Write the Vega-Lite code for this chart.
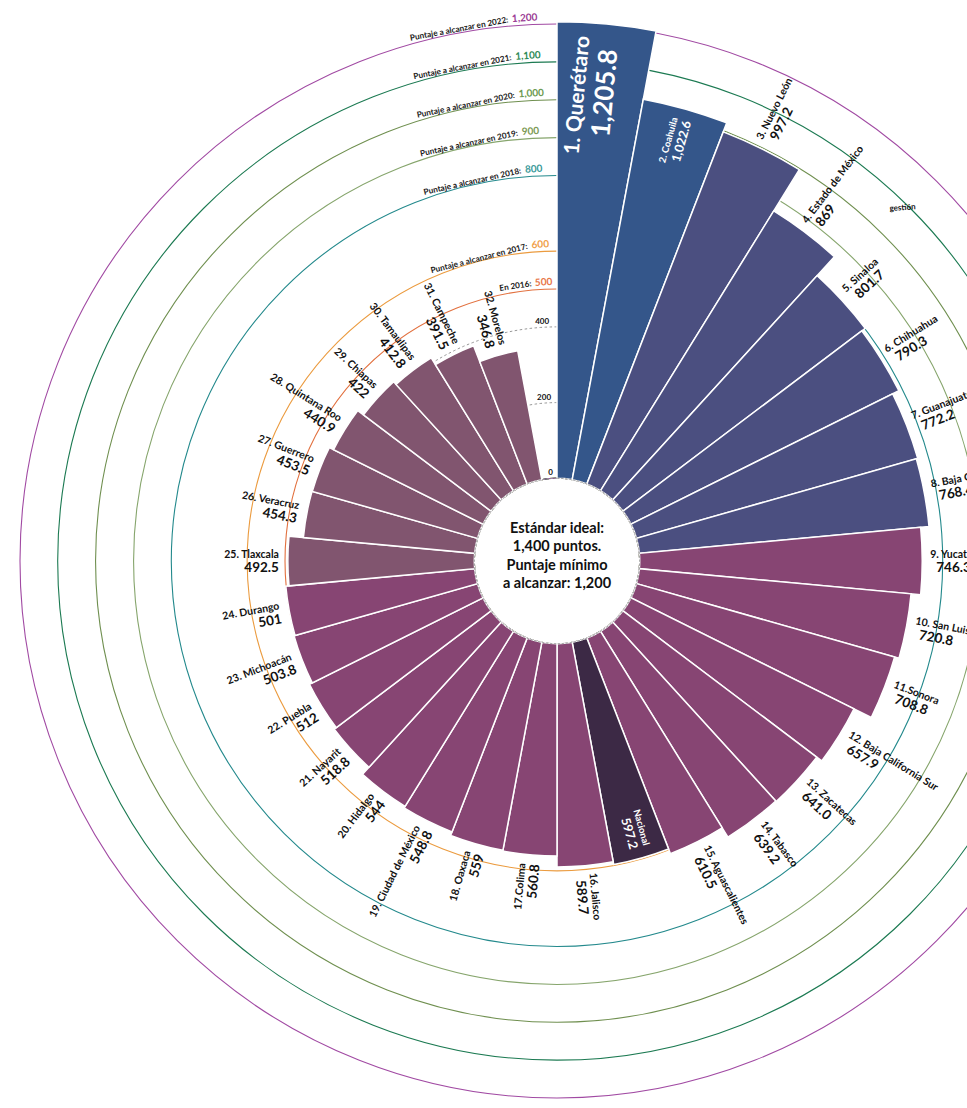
{
  "$schema": "https://vega.github.io/schema/vega-lite/v6.json",
  "autosize": {"type": "none"},
  "padding": {"left": 147, "top": 14, "right": 0, "bottom": 0},
  "width": 820,
  "height": 1094,
  "background": "white",
  "config": {"view": {"stroke": null}, "font": "Lato", "text": {"font": "Lato"}},
  "datasets": {
    "estados": [
      {"pos": 1, "nombre": "1. Querétaro", "v": 1205.8, "cifra": "1,205.8", "grupo": "a"},
      {"pos": 2, "nombre": "2. Coahuila", "v": 1022.6, "cifra": "1,022.6", "grupo": "a"},
      {"pos": 3, "nombre": "3. Nuevo León", "v": 997.2, "cifra": "997.2", "grupo": "b"},
      {"pos": 4, "nombre": "4. Estado de México", "v": 869, "cifra": "869", "grupo": "b"},
      {"pos": 5, "nombre": "5. Sinaloa", "v": 801.7, "cifra": "801.7", "grupo": "b"},
      {"pos": 6, "nombre": "6. Chihuahua", "v": 790.3, "cifra": "790.3", "grupo": "b"},
      {"pos": 7, "nombre": "7. Guanajuato", "v": 772.2, "cifra": "772.2", "grupo": "b"},
      {"pos": 8, "nombre": "8. Baja California", "v": 768.4, "cifra": "768.4", "grupo": "b"},
      {"pos": 9, "nombre": "9. Yucatán", "v": 746.3, "cifra": "746.3", "grupo": "c"},
      {"pos": 10, "nombre": "10. San Luis Potosí", "v": 720.8, "cifra": "720.8", "grupo": "c"},
      {"pos": 11, "nombre": "11.Sonora", "v": 708.8, "cifra": "708.8", "grupo": "c"},
      {"pos": 12, "nombre": "12. Baja California Sur", "v": 657.9, "cifra": "657.9", "grupo": "c"},
      {"pos": 13, "nombre": "13. Zacatecas", "v": 641.0, "cifra": "641.0", "grupo": "c"},
      {"pos": 14, "nombre": "14. Tabasco", "v": 639.2, "cifra": "639.2", "grupo": "c"},
      {"pos": 15, "nombre": "15. Aguascalientes", "v": 610.5, "cifra": "610.5", "grupo": "c"},
      {"pos": 16, "nombre": "Nacional", "v": 597.2, "cifra": "597.2", "grupo": "n"},
      {"pos": 17, "nombre": "16. Jalisco", "v": 589.7, "cifra": "589.7", "grupo": "c"},
      {"pos": 18, "nombre": "17.Colima", "v": 560.8, "cifra": "560.8", "grupo": "c"},
      {"pos": 19, "nombre": "18. Oaxaca", "v": 559, "cifra": "559", "grupo": "c"},
      {"pos": 20, "nombre": "19. Ciudad de México", "v": 548.8, "cifra": "548.8", "grupo": "c"},
      {"pos": 21, "nombre": "20. Hidalgo", "v": 544, "cifra": "544", "grupo": "c"},
      {"pos": 22, "nombre": "21. Nayarit", "v": 518.8, "cifra": "518.8", "grupo": "c"},
      {"pos": 23, "nombre": "22. Puebla", "v": 512, "cifra": "512", "grupo": "c"},
      {"pos": 24, "nombre": "23. Michoacán", "v": 503.8, "cifra": "503.8", "grupo": "c"},
      {"pos": 25, "nombre": "24. Durango", "v": 501, "cifra": "501", "grupo": "c"},
      {"pos": 26, "nombre": "25. Tlaxcala", "v": 492.5, "cifra": "492.5", "grupo": "d"},
      {"pos": 27, "nombre": "26. Veracruz", "v": 454.3, "cifra": "454.3", "grupo": "d"},
      {"pos": 28, "nombre": "27. Guerrero", "v": 453.5, "cifra": "453.5", "grupo": "d"},
      {"pos": 29, "nombre": "28. Quintana Roo", "v": 440.9, "cifra": "440.9", "grupo": "d"},
      {"pos": 30, "nombre": "29. Chiapas", "v": 422, "cifra": "422", "grupo": "d"},
      {"pos": 31, "nombre": "30. Tamaulipas", "v": 412.8, "cifra": "412.8", "grupo": "d"},
      {"pos": 32, "nombre": "31. Campeche", "v": 391.5, "cifra": "391.5", "grupo": "d"},
      {"pos": 33, "nombre": "32. Morelos", "v": 346.8, "cifra": "346.8", "grupo": "d"}
    ],
    "metas": [
      {"v": 500, "texto": "En 2016:", "cifra": "500"},
      {"v": 600, "texto": "Puntaje a alcanzar en 2017:", "cifra": "600"},
      {"v": 800, "texto": "Puntaje a alcanzar en 2018:", "cifra": "800"},
      {"v": 900, "texto": "Puntaje a alcanzar en 2019:", "cifra": "900"},
      {"v": 1000, "texto": "Puntaje a alcanzar en 2020:", "cifra": "1,000"},
      {"v": 1100, "texto": "Puntaje a alcanzar en 2021:", "cifra": "1,100"},
      {"v": 1200, "texto": "Puntaje a alcanzar en 2022:", "cifra": "1,200"}
    ],
    "guias": [{"v": 0}, {"v": 200}, {"v": 400}]
  },
  "layer": [
    {
      "data": {"name": "guias"},
      "transform": [{"filter": "datum.v > 0"}],
      "mark": {"type": "arc", "filled": false, "stroke": "#8a8a8a", "strokeWidth": 0.9, "strokeDash": [2.5, 2.5]},
      "encoding": {
        "radius": {"field": "v", "type": "quantitative", "stack": null, "scale": {"type": "linear", "domain": [0, 1200], "range": [82.7, 537]}}
      }
    },
    {
      "data": {"name": "metas"},
      "mark": {"type": "arc", "filled": false, "strokeWidth": 1.1},
      "encoding": {
        "radius": {"field": "v", "type": "quantitative", "stack": null, "scale": {"type": "linear", "domain": [0, 1200], "range": [82.7, 537]}},
        "stroke": {"field": "v", "type": "nominal", "legend": null,
          "scale": {"domain": [500, 600, 800, 900, 1000, 1100, 1200], "range": ["#e2703e", "#eb9b3f", "#23898c", "#86a56c", "#6f8f4f", "#1c7a52", "#a14aa3"]}}
      }
    },
    {
      "data": {"name": "estados"},
      "transform": [
        {"aggregate": [{"op": "count", "as": "n"}], "groupby": ["pos", "v", "grupo"]},
        {"stack": "n", "groupby": [], "sort": [{"field": "pos", "order": "ascending"}], "as": ["t0", "t1"]}
      ],
      "mark": {"type": "arc", "stroke": "white", "strokeWidth": 1.5},
      "encoding": {
        "theta": {"field": "t0", "type": "quantitative", "stack": null, "scale": {"type": "linear", "domain": [0, 34], "range": [0, 6.283185307]}},
        "theta2": {"field": "t1"},
        "radius": {"field": "v", "type": "quantitative", "stack": null, "scale": {"type": "linear", "domain": [0, 1200], "range": [82.7, 537]}},
        "radius2": {"datum": 0},
        "fill": {"field": "grupo", "type": "nominal", "legend": null,
          "scale": {"domain": ["a", "b", "c", "n", "d"], "range": ["#34568a", "#4b4f80", "#874573", "#3c2945", "#81556f"]}}
      }
    },
    {
      "data": {"name": "guias"},
      "transform": [{"filter": "datum.v == 0"}],
      "mark": {"type": "arc", "fill": "white", "stroke": "#9a9a9a", "strokeWidth": 0.8, "strokeDash": [2, 2]},
      "encoding": {
        "radius": {"field": "v", "type": "quantitative", "stack": null, "scale": {"type": "linear", "domain": [0, 1200], "range": [82.7, 537]}}
      }
    },
    {
      "data": {"name": "guias"},
      "transform": [{"filter": "datum.v == 0"}],
      "mark": {"type": "text", "text": ["Estándar ideal:", "1,400 puntos.", "Puntaje mínimo", "a alcanzar: 1,200"],
        "fontSize": 14.5, "fontWeight": "bold", "lineHeight": 18.3, "align": "center", "baseline": "middle", "color": "#111111", "dy": -32},
      "encoding": {"theta": {"value": 0}, "radius": {"value": 0}}
    },
    {
      "data": {"name": "guias"},
      "mark": {"type": "text", "theta": -0.025, "align": "right", "baseline": "bottom", "fontSize": 8, "fontWeight": "bold", "color": "#111111", "dx": -2, "dy": -1},
      "encoding": {
        "radius": {"field": "v", "type": "quantitative", "scale": {"type": "linear", "domain": [0, 1200], "range": [82.7, 537]}},
        "text": {"field": "v", "type": "quantitative"}
      }
    },
    {
      "data": {"name": "metas"},
      "mark": {"type": "text", "theta": -0.087, "align": "right", "baseline": "bottom", "fontSize": 8.2, "fontWeight": "bold", "color": "#1a1a1a", "dy": -2, "dx": -1},
      "encoding": {
        "radius": {"field": "v", "type": "quantitative", "scale": {"type": "linear", "domain": [0, 1200], "range": [82.7, 537]}},
        "text": {"field": "texto"},
        "angle": {"field": "v", "type": "quantitative", "scale": {"domain": [500, 600, 800, 1200], "range": [-8.3, -14.3, -12.6, -10.6]}}
      }
    },
    {
      "data": {"name": "metas"},
      "mark": {"type": "text", "theta": -0.087, "align": "left", "baseline": "bottom", "fontSize": 10, "fontWeight": "bold", "angle": -3.5, "dy": -2, "dx": 2},
      "encoding": {
        "radius": {"field": "v", "type": "quantitative", "scale": {"type": "linear", "domain": [0, 1200], "range": [82.7, 537]}},
        "text": {"field": "cifra"},
        "fill": {"field": "v", "type": "nominal", "legend": null,
          "scale": {"domain": [500, 600, 800, 900, 1000, 1100, 1200], "range": ["#e8774a", "#f0a04a", "#3a9a9a", "#7c9a55", "#6b9a50", "#2e8b57", "#9b3c95"]}}
      }
    },
    {
      "data": {"name": "estados"},
      "transform": [{"filter": "datum.pos >= 3 && datum.pos <= 17 && datum.pos != 16"}],
      "mark": {"type": "text", "align": "left", "baseline": "middle", "fontSize": 10.5, "fontWeight": "bold", "color": "#111111", "dx": 8, "dy": -6.5},
      "encoding": {
        "theta": {"field": "pos", "type": "quantitative", "stack": null, "scale": {"type": "linear", "domain": [0.5, 34.5], "range": [0, 6.283185307]}},
        "radius": {"field": "v", "type": "quantitative", "scale": {"type": "linear", "domain": [0, 1200], "range": [82.7, 537]}},
        "angle": {"field": "pos", "type": "quantitative", "scale": {"domain": [0.5, 34.5], "range": [-90, 270]}},
        "text": {"field": "nombre"}
      }
    },
    {
      "data": {"name": "estados"},
      "transform": [{"filter": "datum.pos >= 3 && datum.pos <= 17 && datum.pos != 16"}],
      "mark": {"type": "text", "align": "left", "baseline": "middle", "fontSize": 13.5, "fontWeight": "bold", "color": "#111111", "dx": 14, "dy": 6.5},
      "encoding": {
        "theta": {"field": "pos", "type": "quantitative", "stack": null, "scale": {"type": "linear", "domain": [0.5, 34.5], "range": [0, 6.283185307]}},
        "radius": {"field": "v", "type": "quantitative", "scale": {"type": "linear", "domain": [0, 1200], "range": [82.7, 537]}},
        "angle": {"field": "pos", "type": "quantitative", "scale": {"domain": [0.5, 34.5], "range": [-90, 270]}},
        "text": {"field": "cifra"}
      }
    },
    {
      "data": {"name": "estados"},
      "transform": [{"filter": "datum.pos >= 18"}],
      "mark": {"type": "text", "align": "right", "baseline": "middle", "fontSize": 10.5, "fontWeight": "bold", "color": "#111111", "dx": -9, "dy": -6.5},
      "encoding": {
        "theta": {"field": "pos", "type": "quantitative", "stack": null, "scale": {"type": "linear", "domain": [0.5, 34.5], "range": [0, 6.283185307]}},
        "radius": {"field": "v", "type": "quantitative", "scale": {"type": "linear", "domain": [0, 1200], "range": [82.7, 537]}},
        "angle": {"field": "pos", "type": "quantitative", "scale": {"domain": [0.5, 34.5], "range": [-270, 90]}},
        "text": {"field": "nombre"}
      }
    },
    {
      "data": {"name": "estados"},
      "transform": [{"filter": "datum.pos >= 18"}],
      "mark": {"type": "text", "align": "right", "baseline": "middle", "fontSize": 13.5, "fontWeight": "bold", "color": "#111111", "dx": -9, "dy": 6.5},
      "encoding": {
        "theta": {"field": "pos", "type": "quantitative", "stack": null, "scale": {"type": "linear", "domain": [0.5, 34.5], "range": [0, 6.283185307]}},
        "radius": {"field": "v", "type": "quantitative", "scale": {"type": "linear", "domain": [0, 1200], "range": [82.7, 537]}},
        "angle": {"field": "pos", "type": "quantitative", "scale": {"domain": [0.5, 34.5], "range": [-270, 90]}},
        "text": {"field": "cifra"}
      }
    },
    {
      "data": {"name": "estados"},
      "transform": [{"filter": "datum.pos == 1"}],
      "mark": {"type": "text", "align": "right", "baseline": "middle", "fontSize": 21, "fontWeight": "bold", "color": "white", "dx": -14, "dy": -22},
      "encoding": {
        "theta": {"field": "pos", "type": "quantitative", "stack": null, "scale": {"type": "linear", "domain": [0.5, 34.5], "range": [0, 6.283185307]}},
        "radius": {"field": "v", "type": "quantitative", "scale": {"type": "linear", "domain": [0, 1200], "range": [82.7, 537]}},
        "angle": {"field": "pos", "type": "quantitative", "scale": {"domain": [0.5, 34.5], "range": [-90, 270]}},
        "text": {"field": "nombre"}
      }
    },
    {
      "data": {"name": "estados"},
      "transform": [{"filter": "datum.pos == 1"}],
      "mark": {"type": "text", "align": "right", "baseline": "middle", "fontSize": 26, "fontWeight": "bold", "color": "white", "dx": -25, "dy": 5},
      "encoding": {
        "theta": {"field": "pos", "type": "quantitative", "stack": null, "scale": {"type": "linear", "domain": [0.5, 34.5], "range": [0, 6.283185307]}},
        "radius": {"field": "v", "type": "quantitative", "scale": {"type": "linear", "domain": [0, 1200], "range": [82.7, 537]}},
        "angle": {"field": "pos", "type": "quantitative", "scale": {"domain": [0.5, 34.5], "range": [-90, 270]}},
        "text": {"field": "cifra"}
      }
    },
    {
      "data": {"name": "estados"},
      "transform": [{"filter": "datum.pos == 2 || datum.pos == 16"}],
      "mark": {"type": "text", "align": "right", "baseline": "middle", "fontSize": 9.5, "fontWeight": "bold", "color": "white", "dx": -11, "dy": -8},
      "encoding": {
        "theta": {"field": "pos", "type": "quantitative", "stack": null, "scale": {"type": "linear", "domain": [0.5, 34.5], "range": [0, 6.283185307]}},
        "radius": {"field": "v", "type": "quantitative", "scale": {"type": "linear", "domain": [0, 1200], "range": [82.7, 537]}},
        "angle": {"field": "pos", "type": "quantitative", "scale": {"domain": [0.5, 34.5], "range": [-90, 270]}},
        "text": {"field": "nombre"}
      }
    },
    {
      "data": {"name": "estados"},
      "transform": [{"filter": "datum.pos == 2 || datum.pos == 16"}],
      "mark": {"type": "text", "align": "right", "baseline": "middle", "fontSize": 12.5, "fontWeight": "bold", "color": "white", "dx": -11, "dy": 5},
      "encoding": {
        "theta": {"field": "pos", "type": "quantitative", "stack": null, "scale": {"type": "linear", "domain": [0.5, 34.5], "range": [0, 6.283185307]}},
        "radius": {"field": "v", "type": "quantitative", "scale": {"type": "linear", "domain": [0, 1200], "range": [82.7, 537]}},
        "angle": {"field": "pos", "type": "quantitative", "scale": {"domain": [0.5, 34.5], "range": [-90, 270]}},
        "text": {"field": "cifra"}
      }
    },
    {
      "data": {"values": [{"texto": "gestión"}]},
      "mark": {"type": "text", "theta": 0.775, "align": "center", "baseline": "middle", "fontSize": 8, "fontWeight": "bold", "color": "#111111", "angle": -4},
      "encoding": {
        "radius": {"datum": 1086, "type": "quantitative", "scale": {"type": "linear", "domain": [0, 1200], "range": [82.7, 537]}},
        "text": {"field": "texto"}
      }
    }
  ],
  "resolve": {"scale": {"theta": "independent", "angle": "independent", "fill": "independent", "stroke": "independent"}}
}
